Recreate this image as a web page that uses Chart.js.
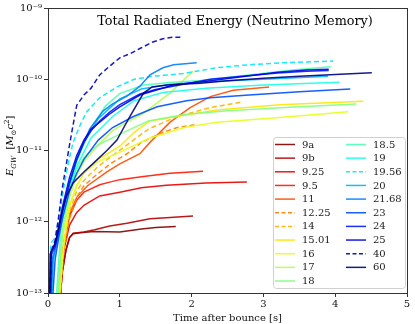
<!DOCTYPE html>
<html>
<head>
<meta charset="utf-8">
<script src="https://cdn.jsdelivr.net/npm/chart.js@4.4.1/dist/chart.umd.min.js"></script>
<style>
  html, body { margin: 0; padding: 0; background: #fff; }
  #wrap { width: 415px; height: 324px; }
</style>
</head>
<body>
<div id="wrap"><canvas id="egw" width="415" height="324"></canvas></div>
<script>
// progenitor models (legend order)
const labels = ['9a', '9b', '9.25', '9.5', '11', '12.25', '14', '15.01', '16', '17', '18',
  '18.5', '19', '19.56', '20', '21.68', '23', '24', '25', '40', '60'];
const dashedModels = ['12.25', '14', '19.56', '40'];

const xTicks = [0, 1, 2, 3, 4, 5];
const yTicks = [1e-13, 1e-12, 1e-11, 1e-10, 1e-9];

// E_GW vs time after bounce, [t (s), E (Msun c^2)]
const e9a = [[0.15, 5e-14], [0.2, 2e-13], [0.25, 4e-13], [0.3, 6e-13], [0.35, 6.8e-13], [0.45, 7e-13],
  [0.64, 7.3e-13], [1.0, 7.2e-13], [1.3, 7.9e-13], [1.5, 8.3e-13], [1.78, 8.6e-13]];
const e9b = [[0.15, 5e-14], [0.2, 2e-13], [0.25, 4e-13], [0.3, 6e-13], [0.35, 6.9e-13], [0.5, 7.2e-13],
  [0.65, 7.7e-13], [0.86, 8.7e-13], [1.1, 9.5e-13], [1.42, 1.1e-12], [1.7, 1.15e-12], [2.02, 1.2e-12]];
const e9_25 = [[0.15, 5e-14], [0.22, 4e-13], [0.3, 9e-13], [0.4, 1.35e-12], [0.5, 1.7e-12], [0.72, 2.3e-12],
  [1.0, 2.6e-12], [1.3, 3e-12], [1.65, 3.25e-12], [2.2, 3.5e-12], [2.77, 3.6e-12]];
const e9_5 = [[0.15, 5e-14], [0.22, 5e-13], [0.3, 1.2e-12], [0.4, 2e-12], [0.5, 2.6e-12], [0.72, 3.3e-12],
  [0.86, 3.6e-12], [1.0, 3.9e-12], [1.33, 4.3e-12], [1.7, 4.8e-12], [2.16, 5.1e-12]];
const e11 = [[0.15, 5e-14], [0.22, 5e-13], [0.3, 1.3e-12], [0.4, 2.2e-12], [0.55, 3.2e-12], [0.82, 5e-12],
  [1.0, 6.5e-12], [1.28, 9e-12], [1.42, 1.3e-11], [1.7, 2.5e-11], [1.98, 4e-11], [2.26, 5.7e-11],
  [2.58, 7e-11], [3.08, 7.8e-11]];
const e12_25 = [[0.15, 5e-14], [0.22, 4e-13], [0.3, 1.1e-12], [0.4, 2.2e-12], [0.5, 3.2e-12], [0.7, 4.8e-12],
  [0.9, 6.8e-12], [1.1, 9e-12], [1.3, 1.3e-11], [1.6, 1.8e-11], [1.8, 2.1e-11], [2.05, 2.3e-11]];
const e14 = [[0.15, 5e-14], [0.22, 5e-13], [0.3, 1.4e-12], [0.4, 2.7e-12], [0.5, 3.8e-12], [0.7, 6e-12],
  [0.9, 8.5e-12], [1.1, 1.2e-11], [1.4, 2e-11], [1.8, 3e-11], [2.26, 4e-11], [2.71, 4.8e-11]];
const e15_01 = [[0.14, 5e-14], [0.2, 3e-13], [0.25, 8e-13], [0.3, 1.7e-12], [0.4, 3.2e-12], [0.5, 4.8e-12],
  [0.7, 7.5e-12], [1.0, 1.15e-11], [1.2, 1.8e-11], [1.42, 2.6e-11], [1.88, 3.1e-11], [2.35, 3.7e-11],
  [3.23, 4.4e-11], [4.39, 4.9e-11]];
const e16 = [[0.14, 5e-14], [0.22, 5e-13], [0.3, 1.6e-12], [0.4, 3.2e-12], [0.5, 4.8e-12], [0.7, 7e-12],
  [1.0, 9.5e-12], [1.42, 1.5e-11], [1.9, 2.1e-11], [2.35, 2.5e-11], [3.23, 2.9e-11], [4.18, 3.5e-11]];
const e17 = [[0.13, 5e-14], [0.2, 6e-13], [0.3, 2.2e-12], [0.4, 4.5e-12], [0.5, 7e-12], [0.7, 1.2e-11],
  [0.9, 1.9e-11], [1.1, 2.5e-11], [1.3, 3.2e-11], [1.5, 4.5e-11], [1.7, 6.4e-11], [1.85, 9e-11],
  [2.02, 1.3e-10]];
const e18 = [[0.12, 5e-14], [0.2, 8e-13], [0.3, 2.6e-12], [0.4, 5.5e-12], [0.5, 8e-12], [0.7, 1.2e-11],
  [1.0, 1.7e-11], [1.4, 2.6e-11], [1.9, 3.2e-11], [2.5, 3.6e-11], [3.3, 4e-11], [4.29, 4.5e-11]];
const e18_5 = [[0.1, 5e-14], [0.18, 8e-13], [0.3, 3.2e-12], [0.4, 7e-12], [0.6, 2.1e-11], [0.8, 4.2e-11],
  [1.0, 6.3e-11], [1.33, 8.3e-11], [1.7, 9e-11], [2.12, 9.6e-11], [2.8, 1.15e-10], [3.4, 1.35e-10],
  [3.94, 1.5e-10]];
const e19 = [[0.05, 5e-14], [0.08, 3e-13], [0.12, 5e-13], [0.2, 1.2e-12], [0.3, 3e-12], [0.4, 6e-12],
  [0.6, 1.5e-11], [0.9, 3e-11], [1.2, 5e-11], [1.6, 6.5e-11], [2.2, 7.5e-11], [3.0, 8.3e-11],
  [4.06, 9.1e-11]];
const e19_56 = [[0.02, 5e-14], [0.04, 5e-13], [0.1, 6e-13], [0.15, 1.1e-12], [0.2, 2.3e-12], [0.25, 4.5e-12],
  [0.3, 8e-12], [0.35, 1.3e-11], [0.45, 2.3e-11], [0.54, 3.5e-11], [0.72, 5.5e-11], [0.96, 7.8e-11],
  [1.2, 1e-10], [1.45, 1.1e-10], [1.88, 1.2e-10], [2.35, 1.45e-10], [2.8, 1.6e-10], [3.25, 1.7e-10],
  [3.6, 1.75e-10], [3.97, 1.8e-10]];
const e20 = [[0.04, 5e-14], [0.06, 3e-13], [0.1, 4e-13], [0.15, 7e-13], [0.2, 1.3e-12], [0.3, 3.5e-12],
  [0.4, 7.5e-12], [0.5, 1.3e-11], [0.7, 2.8e-11], [1.0, 5.3e-11], [1.3, 7.3e-11], [1.7, 8.5e-11],
  [2.2, 9.2e-11], [3.0, 1e-10], [3.9, 1.1e-10]];
const e21_68 = [[0.03, 5e-14], [0.07, 3e-13], [0.15, 7e-13], [0.22, 1.7e-12], [0.3, 3.5e-12], [0.38, 6.5e-12],
  [0.45, 1e-11], [0.58, 2e-11], [0.77, 3.6e-11], [0.9, 4.5e-11], [1.1, 5.8e-11], [1.28, 8e-11],
  [1.42, 1.15e-10], [1.6, 1.45e-10], [1.75, 1.6e-10], [2.07, 1.7e-10]];
const e23 = [[0.05, 5e-14], [0.1, 3e-13], [0.15, 6e-13], [0.2, 1.1e-12], [0.3, 2.7e-12], [0.4, 4.8e-12],
  [0.5, 7.5e-12], [0.7, 1.4e-11], [0.9, 2.1e-11], [1.19, 3e-11], [1.52, 4.1e-11], [1.93, 5e-11],
  [2.26, 5.5e-11], [2.8, 6e-11], [3.5, 6.7e-11], [4.21, 7.3e-11]];
const e24 = [[0.03, 5e-14], [0.05, 3.5e-13], [0.1, 4.5e-13], [0.15, 7.5e-13], [0.2, 1.4e-12], [0.3, 3.5e-12],
  [0.4, 7.5e-12], [0.5, 1.3e-11], [0.6, 1.9e-11], [0.72, 2.6e-11], [0.85, 3.4e-11], [1.0, 4.4e-11],
  [1.28, 6.2e-11], [1.5, 7.2e-11], [1.74, 8e-11], [2.26, 1e-10], [2.7, 1.1e-10], [3.2, 1.22e-10],
  [3.6, 1.3e-10], [3.91, 1.33e-10]];
const e25 = [[0.02, 5e-14], [0.04, 3.8e-13], [0.1, 4.8e-13], [0.15, 8.5e-13], [0.2, 1.6e-12], [0.3, 4.2e-12],
  [0.4, 8.5e-12], [0.5, 1.4e-11], [0.6, 2e-11], [0.72, 2.5e-11], [0.85, 3.2e-11], [1.0, 4.1e-11],
  [1.28, 6e-11], [1.5, 7e-11], [1.74, 8.3e-11], [2.26, 9.5e-11], [2.7, 1.08e-10], [3.2, 1.25e-10],
  [3.6, 1.35e-10], [3.91, 1.38e-10]];
const e40 = [[0.02, 5e-14], [0.05, 4e-13], [0.1, 5.5e-13], [0.15, 1.2e-12], [0.2, 3e-12], [0.25, 6e-12],
  [0.3, 1.2e-11], [0.35, 2.3e-11], [0.4, 4.3e-11], [0.5, 6e-11], [0.6, 7.5e-11], [0.72, 1.15e-10],
  [0.85, 1.5e-10], [1.0, 2e-10], [1.15, 2.3e-10], [1.28, 2.7e-10], [1.45, 3.3e-10], [1.6, 3.7e-10],
  [1.75, 3.9e-10], [1.88, 3.9e-10]];
const e60 = [[0.02, 5e-14], [0.03, 3.5e-13], [0.08, 4.5e-13], [0.12, 6e-13], [0.18, 1.2e-12], [0.25, 2.2e-12],
  [0.35, 3.5e-12], [0.5, 5e-12], [0.63, 6.6e-12], [0.82, 1e-11], [0.96, 1.4e-11], [1.14, 3e-11],
  [1.33, 6.4e-11], [1.45, 7.8e-11], [1.66, 8.3e-11], [2.12, 8.8e-11], [2.5, 9.5e-11], [3.0, 1.03e-10],
  [3.5, 1.1e-10], [4.0, 1.17e-10], [4.51, 1.23e-10]];

const series = [e9a, e9b, e9_25, e9_5, e11, e12_25, e14, e15_01, e16, e17, e18,
  e18_5, e19, e19_56, e20, e21_68, e23, e24, e25, e40, e60];

// reversed jet colormap
function jet(x) {
  const c = v => Math.max(0, Math.min(1, v));
  const r = c(Math.min(4 * x - 1.5, -4 * x + 4.5));
  const g = c(Math.min(4 * x - 0.5, -4 * x + 3.5));
  const b = c(Math.min(4 * x + 0.5, -4 * x + 2.5));
  return 'rgba(' + Math.round(r * 255) + ',' + Math.round(g * 255) + ',' + Math.round(b * 255) + ',0.9)';
}
const colors = labels.map((l, i) => jet(1 - i / (labels.length - 1)));

const datasets = labels.map((lab, i) => ({
  label: lab,
  data: series[i].map(p => ({x: p[0], y: p[1]})),
  borderColor: colors[i],
  backgroundColor: colors[i],
  borderWidth: 1.5,
  borderDash: dashedModels.includes(lab) ? [5, 3] : [],
  pointRadius: 0,
  tension: 0,
  fill: false,
  order: labels.length - i
}));

const supers = {'-': '\u207B', '0': '\u2070', '1': '\u00B9', '2': '\u00B2', '3': '\u00B3', '4': '\u2074',
  '5': '\u2075', '6': '\u2076', '7': '\u2077', '8': '\u2078', '9': '\u2079'};
function powLabel(v) {
  const e = Math.round(Math.log10(v));
  return '10' + String(e).split('').map(ch => supers[ch]).join('');
}

const serif = "'DejaVu Serif', serif";

// frame, title, y label and legend drawn inside the axes, matplotlib style
const decorPlugin = {
  id: 'decor',
  afterDraw(chart) {
    const ctx = chart.ctx;
    const a = chart.chartArea;
    ctx.save();
    ctx.strokeStyle = '#333';
    ctx.lineWidth = 1;
    ctx.strokeRect(Math.round(a.left) + 0.5, Math.round(a.top) + 0.5,
      Math.round(a.right - a.left), Math.round(a.bottom - a.top));

    // title
    ctx.fillStyle = '#000';
    ctx.font = '12.8px ' + serif;
    ctx.textAlign = 'center';
    ctx.textBaseline = 'middle';
    ctx.fillText('Total Radiated Energy (Neutrino Memory)', 235, 22);

    // y label
    ctx.translate(13, 176);
    ctx.rotate(-Math.PI / 2);
    ctx.textAlign = 'left';
    ctx.textBaseline = 'alphabetic';
    let x = 0;
    const part = (txt, font, dy) => {
      ctx.font = font;
      ctx.fillText(txt, x, dy);
      x += ctx.measureText(txt).width;
    };
    part('E', 'italic 10px ' + serif, 0);
    part('GW', 'italic 7px ' + serif, 3);
    part('  [', '10px ' + serif, 0);
    part('M', 'italic 10px ' + serif, 0);
    part('\u2299', '7px ' + serif, 3);
    part('c', 'italic 10px ' + serif, 0);
    part('2', '7px ' + serif, -4);
    part(']', '10px ' + serif, 0);
    ctx.restore();

    // legend
    ctx.save();
    const bx = 273.5, by = 137.5, bw = 132, bh = 151;
    ctx.fillStyle = 'rgba(255,255,255,0.85)';
    ctx.strokeStyle = '#d0d0d0';
    ctx.lineWidth = 1;
    ctx.beginPath();
    ctx.roundRect(bx, by, bw, bh, 3);
    ctx.fill();
    ctx.stroke();
    ctx.font = '10px ' + serif;
    ctx.textBaseline = 'middle';
    ctx.textAlign = 'left';
    const rows = 11, rowH = 13.65;
    labels.forEach((lab, i) => {
      const col = i < rows ? 0 : 1;
      const row = i < rows ? i : i - rows;
      const lx = col === 0 ? 275 : 346;
      const ly = 144.5 + row * rowH;
      ctx.strokeStyle = colors[i];
      ctx.lineWidth = 1.5;
      ctx.setLineDash(dashedModels.includes(lab) ? [4, 2.5] : []);
      ctx.beginPath();
      ctx.moveTo(lx, ly);
      ctx.lineTo(lx + 20, ly);
      ctx.stroke();
      ctx.setLineDash([]);
      ctx.fillStyle = '#222';
      ctx.fillText(lab, lx + 27, ly + 0.5);
    });
    ctx.restore();
  }
};

new Chart(document.getElementById('egw'), {
  type: 'line',
  data: {datasets: datasets},
  options: {
    responsive: false,
    animation: false,
    layout: {padding: {top: 8, right: 8, left: 0, bottom: 0}},
    plugins: {
      legend: {display: false},
      tooltip: {enabled: false}
    },
    scales: {
      x: {
        type: 'linear',
        min: 0,
        max: 5,
        afterBuildTicks: s => { s.ticks = xTicks.map(v => ({value: v})); },
        grid: {display: true, drawOnChartArea: false, drawTicks: true, tickLength: 4, color: '#333'},
        border: {display: false},
        ticks: {color: '#111', font: {family: serif, size: 10}, padding: 1, maxRotation: 0,
          callback: v => String(v)},
        title: {display: true, text: 'Time after bounce [s]', color: '#111',
          font: {family: serif, size: 10}, padding: {top: 1, bottom: 0}},
        afterFit: s => { s.height = 31; }
      },
      y: {
        type: 'logarithmic',
        min: 1e-13,
        max: 1e-9,
        afterBuildTicks: s => { s.ticks = yTicks.map(v => ({value: v, major: true})); },
        grid: {display: true, drawOnChartArea: false, drawTicks: true, tickLength: 4, color: '#333'},
        border: {display: false},
        ticks: {color: '#111', font: {family: serif, size: 10}, padding: 2, callback: v => powLabel(v)},
        afterFit: s => { s.width = 48; }
      }
    }
  },
  plugins: [decorPlugin]
});
</script>
</body>
</html>
